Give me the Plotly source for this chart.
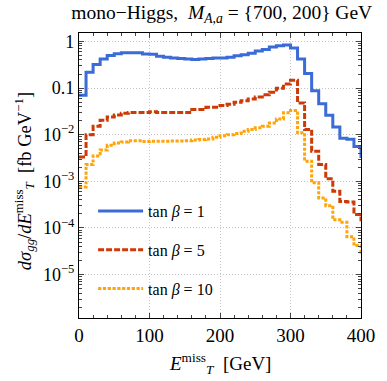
import plotly.graph_objects as go

# bin edges (GeV), 10 GeV bins; last bin lies past the axis end
bin_edges = list(range(0, 420, 10))

blue_tb1 = [0.070, 0.218, 0.32, 0.42, 0.50, 0.545, 0.57, 0.57, 0.57, 0.54,
            0.53, 0.48, 0.455, 0.44, 0.43, 0.42, 0.41, 0.42, 0.43, 0.44,
            0.44, 0.455, 0.49, 0.52, 0.56, 0.62, 0.67, 0.76, 0.81, 0.84,
            0.72, 0.42, 0.206, 0.088, 0.046, 0.026, 0.0147, 0.0084, 0.0080, 0.0056,
            0.0034]
red_tb5 = [0.00334, 0.0100, 0.0151, 0.0204, 0.024, 0.0265, 0.0288, 0.030, 0.030, 0.030,
           0.031, 0.030, 0.030, 0.030, 0.030, 0.030, 0.0345, 0.0345, 0.0387, 0.0387,
           0.042, 0.0448, 0.0494, 0.0537, 0.0583, 0.0645, 0.072, 0.081, 0.0986, 0.122,
           0.146, 0.048, 0.0129, 0.0044, 0.0023, 0.00113, 0.00061, 0.00037, 0.00036, 0.000195,
           0.00015]
orange_tb10 = [0.00076, 0.0023, 0.0035, 0.0047, 0.0059, 0.0066, 0.0070, 0.0074, 0.0074, 0.0071,
               0.0072, 0.0072, 0.0072, 0.0073, 0.0073, 0.0074, 0.0077, 0.0079, 0.0081, 0.0088,
               0.0095, 0.0100, 0.0106, 0.0118, 0.0129, 0.0140, 0.0151, 0.0178, 0.0218, 0.0294,
               0.033, 0.011, 0.0027, 0.00093, 0.00044, 0.00030, 0.00015, 0.000133, 0.000065, 0.000042,
               0.00003]

series = [
    ("tan <i>β</i> = 1", blue_tb1, "#3a6bd6", "solid"),
    ("tan <i>β</i> = 5", red_tb5, "#cc3a05", "6px,2px"),
    ("tan <i>β</i> = 10", orange_tb10, "#ffa40a", "3.2px,1.6px"),
]

x_ticks = [0, 100, 200, 300, 400]
y_ticks = [1e-5, 1e-4, 1e-3, 1e-2, 0.1, 1]
y_ticktext = ["10<sup>−5</sup>", "10<sup>−4</sup>", "10<sup>−3</sup>", "10<sup>−2</sup>", "0.1", "1"]

FONT = "Liberation Serif"

fig = go.Figure()
for i, (name, vals, col, dash) in enumerate(series):
    fig.add_trace(go.Scatter(
        x=bin_edges, y=vals + [vals[-1]],
        mode="lines", line=dict(shape="hv", color=col, width=3, dash=dash),
        name=name, legendgroup=str(i),
    ))

minor_y = [m * 10 ** e for e in range(-7, 1) for m in range(2, 10)]

fig.update_layout(
    width=387, height=381,
    margin=dict(l=78.5, r=21.5, t=33.3, b=62.7),
    paper_bgcolor="white", plot_bgcolor="white",
    font=dict(family=FONT, size=18, color="black"),
    showlegend=True,
    legend=dict(x=0.05, y=0.435, xanchor="left", yanchor="top",
                bgcolor="rgba(0,0,0,0)", tracegroupgap=15,
                font=dict(family=FONT, size=16), itemwidth=45),
    title=dict(text="mono−Higgs,  <i>M</i><sub><i>A</i>,<i>a</i></sub> = {700, 200} GeV",
               x=0.573, xanchor="center", y=0.968, yanchor="middle",
               font=dict(family=FONT, size=19.5)),
    xaxis=dict(range=[0, 400], tickvals=x_ticks, ticks="inside", ticklen=5,
               showline=True, linecolor="black", linewidth=1.2, mirror="allticks",
               showgrid=True, gridcolor="#c4c4c4", griddash="1px,2px", gridwidth=1,
               zeroline=False, tickfont=dict(size=19),
               minor=dict(ticks="inside", ticklen=3, dtick=20, tick0=0, showgrid=False)),
    yaxis=dict(type="log", range=[-5.93, 0.18], tickvals=y_ticks, ticktext=y_ticktext,
               ticks="inside", ticklen=5,
               showline=True, linecolor="black", linewidth=1.2, mirror="allticks",
               showgrid=True, gridcolor="#c4c4c4", griddash="1px,2px", gridwidth=1,
               zeroline=False, tickfont=dict(size=18),
               minor=dict(ticks="inside", ticklen=3, tickvals=minor_y, showgrid=False)),
    annotations=[
        dict(text="<i>E</i><sup>miss</sup><sub><i>T</i></sub>  [GeV]",
             xref="paper", yref="paper", x=0.5, y=-0.105, xanchor="center", yanchor="top",
             showarrow=False, font=dict(family=FONT, size=19)),
        dict(text="<i>dσ</i><sub><i>gg</i></sub>/<i>dE</i><sup>miss</sup><sub><i>T</i></sub>  [fb GeV<sup>−1</sup>]",
             xref="paper", yref="paper", x=-0.195, y=0.48, xanchor="center", yanchor="middle",
             textangle=-90, showarrow=False, font=dict(family=FONT, size=18.5)),
    ],
)

fig.write_html("out.html", config={"displayModeBar": False},
               post_script="document.body.style.margin='0px';")
